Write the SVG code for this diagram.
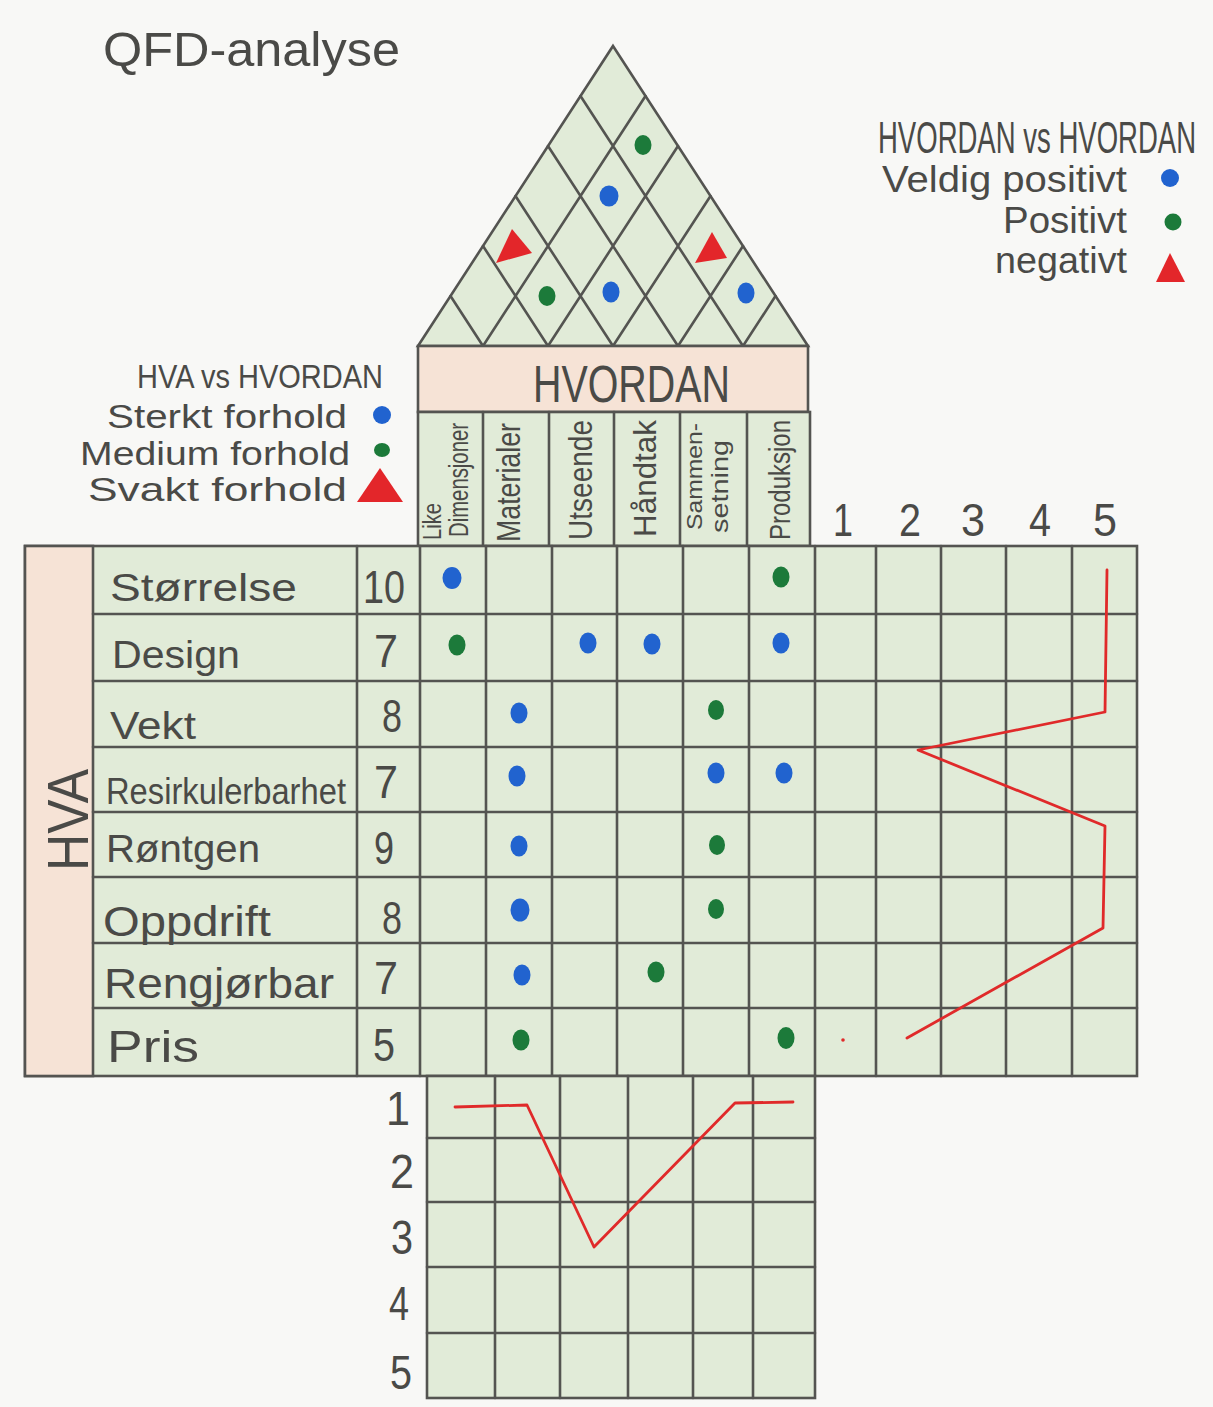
<svg xmlns="http://www.w3.org/2000/svg" width="1213" height="1407" viewBox="0 0 1213 1407">
<defs>
<style>
.t{font-family:"Liberation Sans","DejaVu Sans",sans-serif;fill:#4a4a47;}
.grid{fill:#e1ebd8;stroke:#545451;stroke-width:2.6;}
.peach{fill:#f6e3d6;stroke:#545451;stroke-width:2.6;}
.ln{stroke:#545451;stroke-width:2.6;fill:none;stroke-linecap:round;}
.b{fill:#2163cf;}
.g{fill:#1c7a3a;}
.r{fill:#e3262a;}
.plot{stroke:#e02a2a;stroke-width:2.8;fill:none;stroke-linejoin:round;stroke-linecap:round;}
</style>
</defs>
<rect width="1213" height="1407" fill="#f8f8f6"/>

<g id="title">
<text class="t" x="103" y="66" font-size="48" textLength="297" lengthAdjust="spacingAndGlyphs">QFD-analyse</text>
</g>

<g id="roof">
<polygon class="grid" points="613,46 808,346 418,346"/>
<path class="ln" d="M483,346L645.5,96M548,346L678,146M613,346L710.5,196M678,346L743,246M743,346L775.5,296M483,346L450.5,296M548,346L483,246M613,346L515.5,196M678,346L548,146M743,346L580.5,96"/>
<ellipse class="g" cx="643" cy="145" rx="8.5" ry="10"/>
<ellipse class="b" cx="609" cy="196" rx="9.5" ry="10.5"/>
<ellipse class="g" cx="547" cy="296" rx="8.5" ry="10"/>
<ellipse class="b" cx="611" cy="292" rx="8.5" ry="10.5"/>
<ellipse class="b" cx="746" cy="293" rx="8.5" ry="10.5"/>
<polygon class="r" points="512,229 496,263 532,253"/>
<polygon class="r" points="712,232 695,263 727,258"/>
</g>

<g id="hvordan-header">
<rect class="peach" x="418" y="346" width="390" height="66"/>
<text class="t" x="533" y="402" font-size="52" textLength="197" lengthAdjust="spacingAndGlyphs">HVORDAN</text>
</g>

<g id="column-headers">
<rect class="grid" x="418" y="412" width="392" height="134"/>
<path class="ln" d="M483,412V546M549,412V546M614,412V546M680,412V546M747,412V546"/>
<text class="t" transform="translate(441,540) rotate(-90)" font-size="25" textLength="37" lengthAdjust="spacingAndGlyphs">Like</text>
<text class="t" transform="translate(468,537) rotate(-90)" font-size="28" textLength="114" lengthAdjust="spacingAndGlyphs">Dimensjoner</text>
<text class="t" transform="translate(520,542) rotate(-90)" font-size="34" textLength="119" lengthAdjust="spacingAndGlyphs">Materialer</text>
<text class="t" transform="translate(592,540) rotate(-90)" font-size="34" textLength="120" lengthAdjust="spacingAndGlyphs">Utseende</text>
<text class="t" transform="translate(656,537) rotate(-90)" font-size="32" textLength="117" lengthAdjust="spacingAndGlyphs">Håndtak</text>
<text class="t" transform="translate(702,530) rotate(-90)" font-size="22" textLength="107" lengthAdjust="spacingAndGlyphs">Sammen-</text>
<text class="t" transform="translate(728,533) rotate(-90)" font-size="24" textLength="93" lengthAdjust="spacingAndGlyphs">setning</text>
<text class="t" transform="translate(790,540) rotate(-90)" font-size="30" textLength="120" lengthAdjust="spacingAndGlyphs">Produksjon</text>
</g>

<g id="legend-hva">
<text class="t" x="137" y="388" font-size="34" textLength="246" lengthAdjust="spacingAndGlyphs">HVA vs HVORDAN</text>
<text class="t" x="107" y="428" font-size="34" textLength="240" lengthAdjust="spacingAndGlyphs">Sterkt forhold</text>
<text class="t" x="80" y="465" font-size="34" textLength="270" lengthAdjust="spacingAndGlyphs">Medium forhold</text>
<text class="t" x="88" y="501" font-size="34" textLength="259" lengthAdjust="spacingAndGlyphs">Svakt forhold</text>
<circle class="b" cx="382" cy="415" r="9"/>
<ellipse class="g" cx="382" cy="450" rx="8" ry="7"/>
<polygon class="r" points="380,468 357,502 403,502"/>
</g>

<g id="legend-hvordan">
<text class="t" transform="translate(878,153) scale(0.626,1)" x="0" y="0" font-size="44" textLength="508" lengthAdjust="spacingAndGlyphs">HVORDAN vs HVORDAN</text>
<text class="t" x="882" y="192" font-size="36" textLength="245" lengthAdjust="spacingAndGlyphs">Veldig positivt</text>
<text class="t" x="1003" y="233" font-size="36" textLength="124" lengthAdjust="spacingAndGlyphs">Positivt</text>
<text class="t" x="995" y="273" font-size="36" textLength="132" lengthAdjust="spacingAndGlyphs">negativt</text>
<circle class="b" cx="1170" cy="178" r="9"/>
<circle class="g" cx="1173" cy="222" r="8.5"/>
<polygon class="r" points="1170,253 1156,282 1185,282"/>
</g>

<g id="hva-table">
<rect class="grid" x="25" y="546" width="1112" height="530"/>
<rect class="peach" x="25" y="546" width="68" height="530"/>
<path class="ln" d="M357,546V1076M420,546V1076M93,614H1137M93,681H1137M93,747H1137M93,812H1137M93,877H1137M93,943H1137M93,1008H1137"/>
<text class="t" transform="translate(88,871) rotate(-90)" font-size="58" textLength="102" lengthAdjust="spacingAndGlyphs">HVA</text>
<text class="t" x="110" y="601" font-size="39" textLength="187" lengthAdjust="spacingAndGlyphs">Størrelse</text>
<text class="t" x="112" y="668" font-size="39" textLength="128" lengthAdjust="spacingAndGlyphs">Design</text>
<text class="t" x="110" y="739" font-size="39" textLength="86" lengthAdjust="spacingAndGlyphs">Vekt</text>
<text class="t" x="106" y="804" font-size="36" textLength="240" lengthAdjust="spacingAndGlyphs">Resirkulerbarhet</text>
<text class="t" x="106" y="862" font-size="39" textLength="154" lengthAdjust="spacingAndGlyphs">Røntgen</text>
<text class="t" x="103" y="936" font-size="42" textLength="168" lengthAdjust="spacingAndGlyphs">Oppdrift</text>
<text class="t" x="104" y="998" font-size="42" textLength="230" lengthAdjust="spacingAndGlyphs">Rengjørbar</text>
<text class="t" x="107" y="1062" font-size="44" textLength="92" lengthAdjust="spacingAndGlyphs">Pris</text>
<g text-anchor="middle" font-size="46">
<text class="t" x="384" y="603" textLength="42" lengthAdjust="spacingAndGlyphs">10</text>
<text class="t" x="386" y="667" textLength="24" lengthAdjust="spacingAndGlyphs">7</text>
<text class="t" x="392" y="732" textLength="20" lengthAdjust="spacingAndGlyphs">8</text>
<text class="t" x="386" y="798" textLength="24" lengthAdjust="spacingAndGlyphs">7</text>
<text class="t" x="384" y="864" textLength="20" lengthAdjust="spacingAndGlyphs">9</text>
<text class="t" x="392" y="934" textLength="20" lengthAdjust="spacingAndGlyphs">8</text>
<text class="t" x="386" y="994" textLength="24" lengthAdjust="spacingAndGlyphs">7</text>
<text class="t" x="384" y="1061" textLength="22" lengthAdjust="spacingAndGlyphs">5</text>
</g>
</g>

<g id="relationship-matrix">
<path class="ln" d="M486,546V1076M552,546V1076M617,546V1076M683,546V1076M749,546V1076M815,546V1076"/>
<ellipse class="b" cx="452" cy="578" rx="9.5" ry="11"/>
<ellipse class="g" cx="781" cy="577" rx="8.5" ry="10.5"/>
<ellipse class="g" cx="457" cy="645" rx="8.5" ry="10.5"/>
<ellipse class="b" cx="588" cy="643" rx="8.5" ry="10.5"/>
<ellipse class="b" cx="652" cy="644" rx="8.5" ry="10.5"/>
<ellipse class="b" cx="781" cy="643" rx="8.5" ry="10.5"/>
<ellipse class="b" cx="519" cy="713" rx="8.5" ry="10.5"/>
<ellipse class="g" cx="716" cy="710" rx="8" ry="10"/>
<ellipse class="b" cx="517" cy="776" rx="8.5" ry="10.5"/>
<ellipse class="b" cx="716" cy="773" rx="8.5" ry="10.5"/>
<ellipse class="b" cx="784" cy="773" rx="8.5" ry="10.5"/>
<ellipse class="b" cx="519" cy="846" rx="8.5" ry="10.5"/>
<ellipse class="g" cx="717" cy="845" rx="8" ry="10"/>
<ellipse class="b" cx="520" cy="910" rx="9.5" ry="11.5"/>
<ellipse class="g" cx="716" cy="909" rx="8" ry="10"/>
<ellipse class="b" cx="522" cy="975" rx="8.5" ry="10.5"/>
<ellipse class="g" cx="656" cy="972" rx="8.5" ry="10.5"/>
<ellipse class="g" cx="521" cy="1040" rx="8.5" ry="10.5"/>
<ellipse class="g" cx="786" cy="1038" rx="8.5" ry="11"/>
</g>

<g id="competitive-chart">
<path class="ln" d="M876,546V1076M941,546V1076M1006,546V1076M1072,546V1076"/>
<g text-anchor="middle" font-size="46">
<text class="t" x="843" y="536" textLength="20" lengthAdjust="spacingAndGlyphs">1</text>
<text class="t" x="910" y="536" textLength="22" lengthAdjust="spacingAndGlyphs">2</text>
<text class="t" x="973" y="536" textLength="24" lengthAdjust="spacingAndGlyphs">3</text>
<text class="t" x="1040" y="536" textLength="22" lengthAdjust="spacingAndGlyphs">4</text>
<text class="t" x="1105" y="536" textLength="24" lengthAdjust="spacingAndGlyphs">5</text>
</g>
<path class="plot" d="M1107,570L1105,712L918,750L1105,826L1103,928L907,1038"/>
<circle cx="843" cy="1040" r="1.8" fill="#e02a2a"/>
</g>

<g id="technical-chart">
<rect class="grid" x="427" y="1076" width="388" height="322"/>
<path class="ln" d="M495,1076V1398M560,1076V1398M628,1076V1398M693,1076V1398M753,1076V1398M427,1138H815M427,1202H815M427,1267H815M427,1333H815"/>
<g text-anchor="middle" font-size="48">
<text class="t" x="398" y="1125" textLength="24" lengthAdjust="spacingAndGlyphs">1</text>
<text class="t" x="402" y="1188" textLength="24" lengthAdjust="spacingAndGlyphs">2</text>
<text class="t" x="402" y="1254" textLength="22" lengthAdjust="spacingAndGlyphs">3</text>
<text class="t" x="399" y="1320" textLength="20" lengthAdjust="spacingAndGlyphs">4</text>
<text class="t" x="401" y="1389" textLength="22" lengthAdjust="spacingAndGlyphs">5</text>
</g>
<path class="plot" d="M455,1107L527,1105L594,1247L735,1103L793,1102"/>
</g>
</svg>
